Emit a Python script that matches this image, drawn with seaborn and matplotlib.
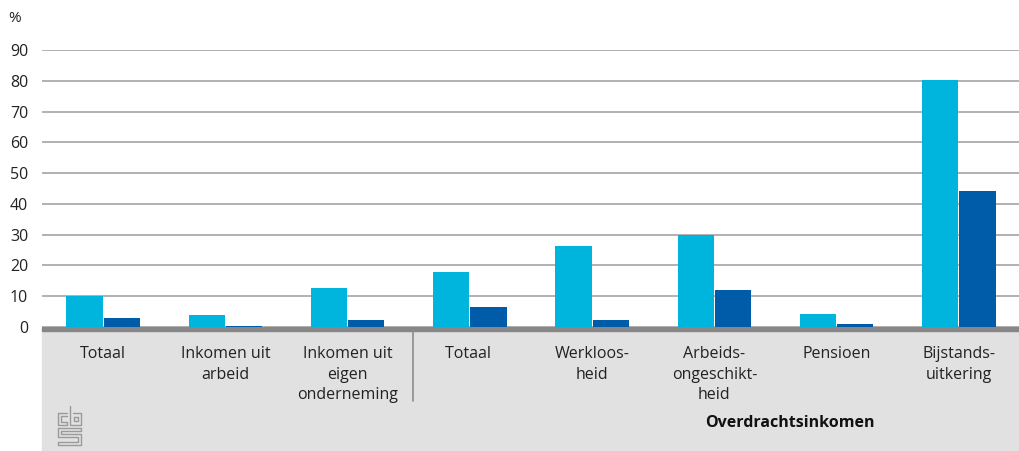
import numpy as np
import pandas as pd
import matplotlib
matplotlib.use("Agg")
import matplotlib.pyplot as plt
import seaborn as sns
from matplotlib.patches import Rectangle
from matplotlib.lines import Line2D

categories = ["Totaal", "Inkomen uit\narbeid", "Inkomen uit\neigen\nonderneming",
              "Totaal ", "Werkloos-\nheid", "Arbeids-\nongeschikt-\nheid",
              "Pensioen", "Bijstands-\nuitkering"]
series_names = ["a", "b"]
values_a = [10.2, 3.9, 12.7, 17.9, 26.3, 29.9, 4.2, 80.2]
values_b = [3.0, 0.4, 2.3, 6.5, 2.3, 12.0, 1.0, 44.2]
yticks = [0, 10, 20, 30, 40, 50, 60, 70, 80, 90]

df = pd.DataFrame({
    "cat": categories * 2,
    "serie": [series_names[0]] * 8 + [series_names[1]] * 8,
    "val": values_a + values_b,
})

sns.set_style("white")
plt.rcParams["font.family"] = ["Open Sans", "DejaVu Sans"]

W, H = 1020, 451
fig = plt.figure(figsize=(W / 100, H / 100), dpi=100)

# grey band under the axis + thick base line
fig.patches.append(Rectangle((42 / W, 0), 978 / W, (451 - 331) / H,
                             transform=fig.transFigure, color="#e1e1e1", zorder=-2))
fig.patches.append(Rectangle((42 / W, (H - 331) / H), 978 / W, 4 / H,
                             transform=fig.transFigure, color="#878787", zorder=-1))

ax = fig.add_axes([42 / W, (H - 327) / H, 978 / W, 277 / H])
ax.patch.set_alpha(0)
sns.barplot(data=df, x="cat", y="val", hue="serie", order=categories,
            palette=["#00b5dd", "#005ba8"], width=0.61, gap=0.03,
            saturation=1, legend=False, linewidth=0, ax=ax)

ax.set_ylim(0, 90)
ax.set_xlim(-0.5, 7.5)
ax.set_yticks(yticks)
ax.yaxis.grid(True, color="#ababab", linewidth=1.3)
ax.set_axisbelow(True)
for s in ["top", "right", "left", "bottom"]:
    ax.spines[s].set_visible(False)
ax.set_xlabel("")
ax.set_ylabel("")
ax.tick_params(axis="y", length=0, pad=10, labelsize=11.5, labelcolor="#222222")
ax.tick_params(axis="x", length=0, pad=13.5, labelsize=11.5, labelcolor="#222222")
for lab in ax.get_xticklabels():
    lab.set_linespacing(1.4)
    lab.set_verticalalignment("top")

fig.text(8 / W, 1 - 18 / H, "%", fontsize=11, color="#222222", va="center")

# separator between groups
fig.add_artist(Line2D([413 / W, 413 / W], [1 - 331 / H, 1 - 401 / H],
                      transform=fig.transFigure, color="#8c8c8c", linewidth=1.2))

fig.text(790 / W, 1 - 423 / H, "Overdrachtsinkomen", fontsize=11.5,
         fontweight="bold", color="#111111", ha="center", va="center")

# simplified cbs logo
lc = "#9a9a9a"
def seg(xs, ys):
    fig.add_artist(Line2D([x / W for x in xs], [1 - y / H for y in ys],
                          transform=fig.transFigure, color=lc, linewidth=1))
# c
seg([67, 58, 58, 67, 67, 61, 61, 67], [413, 413, 425, 425, 422, 422, 416, 416])
# b
seg([70, 70, 81, 81, 73], [406, 425, 425, 413, 413])
seg([74, 78, 78, 74, 74], [417, 417, 421, 421, 417])
# s
seg([58, 81, 81, 61, 61, 81, 81, 58, 58, 78, 78, 58, 58],
    [428, 428, 431, 431, 434, 434, 445, 445, 442, 442, 437, 437, 428])

fig.savefig("out.png", dpi=100)
